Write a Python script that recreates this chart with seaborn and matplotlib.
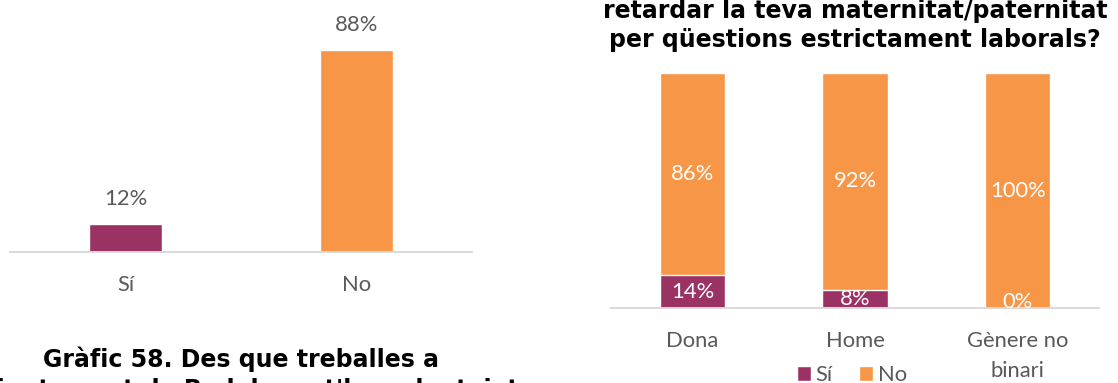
import matplotlib
matplotlib.use("Agg")
import matplotlib.pyplot as plt
import seaborn as sns
import pandas as pd
from matplotlib.patches import Patch

# Overall answer: Sí / No
respostes = ["Sí", "No"]
total_pct = [12, 88]

# Answer split by gender
generes = ["Dona", "Home", "Gènere no\nbinari"]
si_pct = [14, 8, 0]
no_pct = [86, 92, 100]

titol_esq = ["Gràfic 58. Des que treballes a",
             "l'Ajuntament de Badalona, t'has plantejat"]
titol_dre = ["retardar la teva maternitat/paternitat",
             "per qüestions estrictament laborals?"]

color_si = "#9B3264"
color_no = "#F79646"
grey_text = "#595959"
axis_grey = "#D9D9D9"

sns.set_theme(style="white")
plt.rcParams["font.family"] = ["Lato", "DejaVu Sans"]

W, H = 1118, 383
fig = plt.figure(figsize=(W / 100, H / 100), dpi=100)
fig.patch.set_facecolor("white")


def axes_px(x0, x1, base, top):
    """Axes placed by pixel edges (left, right, baseline, top)."""
    return fig.add_axes([x0 / W, (H - base) / H, (x1 - x0) / W, (base - top) / H])


ax1 = axes_px(10, 472, 251.7, 22.5)
ax2 = axes_px(611, 1099, 308.3, 73.3)

label_fs = 15.8

# ---- left: overall answer ----
df1 = pd.DataFrame({"resposta": respostes, "pct": total_pct})
sns.barplot(data=df1, x="resposta", y="pct", hue="resposta",
            palette={"Sí": color_si, "No": color_no}, dodge=False,
            width=0.316, saturation=1, errorbar=None, legend=False, ax=ax1)
for i, v in enumerate(total_pct):
    ax1.annotate(f"{v}%", (i, v), xytext=(0, 18), textcoords="offset points",
                 ha="center", va="center", fontsize=label_fs, color=grey_text)
ax1.set_xlim(-0.5, 1.5)

# ---- right: stacked by gender ----
df2 = pd.DataFrame({"genere": generes, "si": si_pct, "no": no_pct})
df2["acumulat"] = df2["si"] + df2["no"]
sns.barplot(data=df2, x="genere", y="acumulat", color=color_no, width=0.4,
            saturation=1, errorbar=None, ax=ax2)
sns.barplot(data=df2, x="genere", y="si", color=color_si, width=0.4,
            saturation=1, errorbar=None, ax=ax2)
for i, (s, n) in enumerate(zip(si_pct, no_pct)):
    ax2.text(i, max(s / 2, 2.5), f"{s}%", ha="center", va="center",
             fontsize=label_fs, color="white", clip_on=True)
    ax2.text(i, s + n / 2, f"{n}%", ha="center", va="center",
             fontsize=label_fs, color="white", clip_on=True)
ax2.set_xlim(-0.5, 2.5)

for ax in (ax1, ax2):
    ax.set_ylim(0, 100)
    ax.set_xlabel("")
    ax.set_ylabel("")
    ax.set_yticks([])
    sns.despine(ax=ax, left=True)
    ax.spines["bottom"].set_color(axis_grey)
    ax.spines["bottom"].set_linewidth(1.4)
    ax.tick_params(axis="x", length=0, pad=16.5, labelsize=label_fs,
                   labelcolor=grey_text)
    for t in ax.get_xticklabels():
        t.set_linespacing(1.6)

ax2.legend(handles=[Patch(facecolor=color_si, label="Sí"),
                    Patch(facecolor=color_no, label="No")],
           loc="center", bbox_to_anchor=(0.494, -0.284), ncol=2, frameon=False,
           fontsize=label_fs, labelcolor=grey_text, handlelength=0.64,
           handleheight=0.64, handletextpad=0.2, columnspacing=1.2,
           borderpad=0, borderaxespad=0)

# ---- titles ----
title_font = dict(fontsize=17, fontweight="bold", color="black",
                  family=["DejaVu Sans"], ha="center", va="baseline")
fig.text(241 / W, (H - 367) / H, titol_esq[0], **title_font)
fig.text(241 / W, (H - 397) / H, titol_esq[1], **title_font)
fig.text(855 / W, (H - 18.3) / H, titol_dre[0], **title_font)
fig.text(855 / W, (H - 46.7) / H, titol_dre[1], **title_font)

fig.savefig("out.png", dpi=100, facecolor="white")
